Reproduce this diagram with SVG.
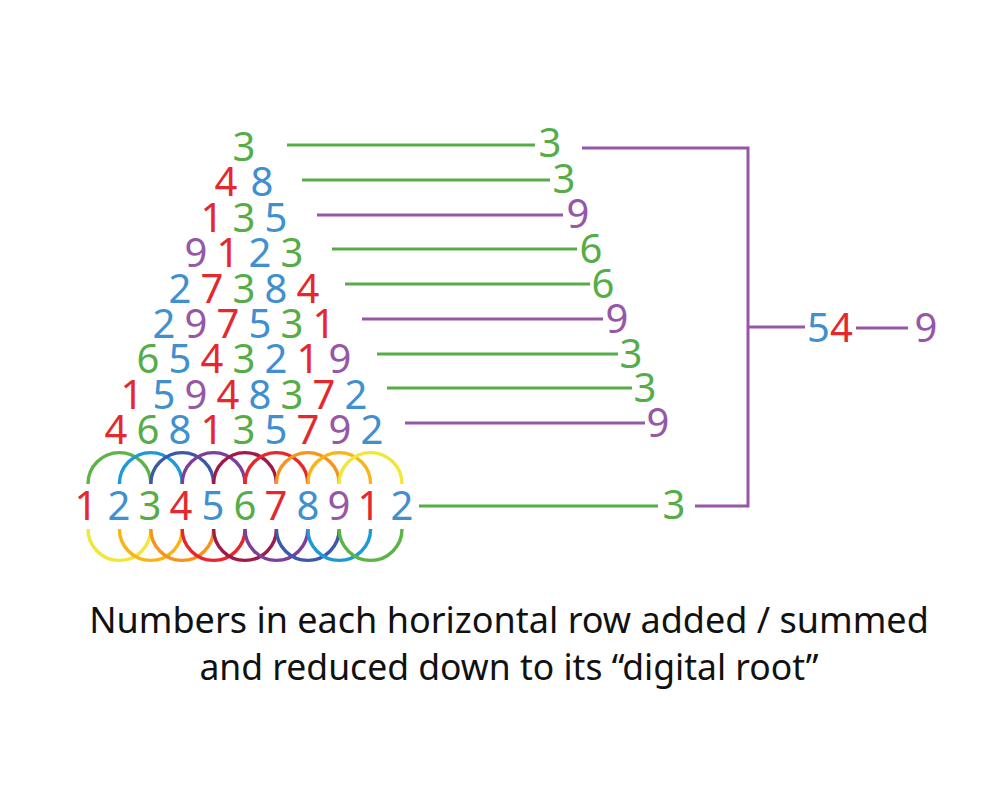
<svg xmlns="http://www.w3.org/2000/svg" width="1002" height="786" viewBox="0 0 1002 786">
<style>
text{font-family:"Noto Sans","Open Sans",sans-serif}
.d{font-size:40px;text-anchor:middle}
.r{fill:#e5282d}.b{fill:#4090d0}.g{fill:#56ad47}.p{fill:#9557a6}
.ln{stroke-width:3;fill:none;stroke-linecap:butt}
.lg{stroke:#56ad47}.lp{stroke:#9557a6}
.arc{fill:none;stroke-width:3.4}
.cap{font-size:35.5px;fill:#111;text-anchor:middle}
</style>
<rect width="1002" height="786" fill="#fff"/>
<g id="connectors">
<line class="ln lg" x1="287" y1="145" x2="535" y2="145"/>
<line class="ln lg" x1="302" y1="180" x2="550" y2="180"/>
<line class="ln lp" x1="317" y1="215" x2="563" y2="215"/>
<line class="ln lg" x1="332" y1="249" x2="577" y2="249"/>
<line class="ln lg" x1="345" y1="284" x2="590" y2="284"/>
<line class="ln lp" x1="362" y1="319" x2="603" y2="319"/>
<line class="ln lg" x1="377" y1="354" x2="618" y2="354"/>
<line class="ln lg" x1="387" y1="388" x2="632" y2="388"/>
<line class="ln lp" x1="405" y1="423" x2="645" y2="423"/>
<line class="ln lg" x1="419" y1="506" x2="658" y2="506"/>
<polyline class="ln lp" points="582,148 748,148 748,506 695,506"/>
<line class="ln lp" x1="748" y1="327" x2="805" y2="327"/>
<line class="ln lp" x1="856" y1="328" x2="908" y2="328"/>
</g>
<g id="row-1"><text class="d"><tspan class="g" x="244" y="161">3</tspan></text></g>
<g id="row-2"><text class="d" y="196.4"><tspan class="r" x="226">4</tspan><tspan class="b" x="262">8</tspan></text></g>
<g id="row-3"><text class="d" y="231.8"><tspan class="r" x="212">1</tspan><tspan class="g" x="244">3</tspan><tspan class="b" x="276">5</tspan></text></g>
<g id="row-4"><text class="d" y="267.2"><tspan class="p" x="196">9</tspan><tspan class="r" x="228">1</tspan><tspan class="b" x="260">2</tspan><tspan class="g" x="292">3</tspan></text></g>
<g id="row-5"><text class="d" y="302.6"><tspan class="b" x="180">2</tspan><tspan class="r" x="212">7</tspan><tspan class="g" x="244">3</tspan><tspan class="b" x="276">8</tspan><tspan class="r" x="308">4</tspan></text></g>
<g id="row-6"><text class="d" y="338"><tspan class="b" x="164">2</tspan><tspan class="p" x="196">9</tspan><tspan class="r" x="228">7</tspan><tspan class="b" x="260">5</tspan><tspan class="g" x="292">3</tspan><tspan class="r" x="324">1</tspan></text></g>
<g id="row-7"><text class="d" y="373.4"><tspan class="g" x="148">6</tspan><tspan class="b" x="180">5</tspan><tspan class="r" x="212">4</tspan><tspan class="g" x="244">3</tspan><tspan class="b" x="276">2</tspan><tspan class="r" x="308">1</tspan><tspan class="p" x="340">9</tspan></text></g>
<g id="row-8"><text class="d" y="408.8"><tspan class="r" x="132">1</tspan><tspan class="b" x="164">5</tspan><tspan class="p" x="196">9</tspan><tspan class="r" x="228">4</tspan><tspan class="b" x="260">8</tspan><tspan class="g" x="292">3</tspan><tspan class="r" x="324">7</tspan><tspan class="b" x="356">2</tspan></text></g>
<g id="row-9"><text class="d" y="444.2"><tspan class="r" x="116">4</tspan><tspan class="g" x="148">6</tspan><tspan class="b" x="180">8</tspan><tspan class="r" x="212">1</tspan><tspan class="g" x="244">3</tspan><tspan class="b" x="276">5</tspan><tspan class="r" x="308">7</tspan><tspan class="p" x="340">9</tspan><tspan class="b" x="372">2</tspan></text></g>
<g id="arcs">
<path class="arc" stroke="#5cb446" d="M88,484 A31.4,31.4 0 0 1 150.8,484"/>
<path class="arc" stroke="#1d9ad6" d="M119.4,484 A31.4,31.4 0 0 1 182.2,484"/>
<path class="arc" stroke="#3c58a8" d="M150.8,484 A31.4,31.4 0 0 1 213.6,484"/>
<path class="arc" stroke="#7d3f98" d="M182.2,484 A31.4,31.4 0 0 1 245,484"/>
<path class="arc" stroke="#a0194b" d="M213.6,484 A31.4,31.4 0 0 1 276.4,484"/>
<path class="arc" stroke="#e8262b" d="M245,484 A31.4,31.4 0 0 1 307.8,484"/>
<path class="arc" stroke="#f7941d" d="M276.4,484 A31.4,31.4 0 0 1 339.2,484"/>
<path class="arc" stroke="#fbb416" d="M307.8,484 A31.4,31.4 0 0 1 370.6,484"/>
<path class="arc" stroke="#f0e73a" d="M339.2,484 A31.4,31.4 0 0 1 402,484"/>
<path class="arc" stroke="#f0e73a" d="M88,529 A31.4,31.4 0 0 0 150.8,529"/>
<path class="arc" stroke="#fbb416" d="M119.4,529 A31.4,31.4 0 0 0 182.2,529"/>
<path class="arc" stroke="#f7941d" d="M150.8,529 A31.4,31.4 0 0 0 213.6,529"/>
<path class="arc" stroke="#e8262b" d="M182.2,529 A31.4,31.4 0 0 0 245,529"/>
<path class="arc" stroke="#a0194b" d="M213.6,529 A31.4,31.4 0 0 0 276.4,529"/>
<path class="arc" stroke="#7d3f98" d="M245,529 A31.4,31.4 0 0 0 307.8,529"/>
<path class="arc" stroke="#3c58a8" d="M276.4,529 A31.4,31.4 0 0 0 339.2,529"/>
<path class="arc" stroke="#1d9ad6" d="M307.8,529 A31.4,31.4 0 0 0 370.6,529"/>
<path class="arc" stroke="#5cb446" d="M339.2,529 A31.4,31.4 0 0 0 402,529"/>
</g>
<g id="base-row"><text class="d" y="520"><tspan class="r" x="86">1</tspan><tspan class="b" x="119">2</tspan><tspan class="g" x="150">3</tspan><tspan class="r" x="181">4</tspan><tspan class="b" x="213">5</tspan><tspan class="g" x="245">6</tspan><tspan class="r" x="276">7</tspan><tspan class="b" x="308">8</tspan><tspan class="p" x="339">9</tspan><tspan class="r" x="369">1</tspan><tspan class="b" x="402">2</tspan></text></g>
<g id="results">
<text class="d g" x="550" y="157">3</text>
<text class="d g" x="564" y="193">3</text>
<text class="d p" x="578" y="228">9</text>
<text class="d g" x="591" y="263">6</text>
<text class="d g" x="603" y="298">6</text>
<text class="d p" x="617" y="333">9</text>
<text class="d g" x="631" y="368">3</text>
<text class="d g" x="645" y="402">3</text>
<text class="d p" x="658" y="437">9</text>
<text class="d g" x="674" y="519">3</text>
</g>
<g id="total"><text x="807" y="342" style="font-size:40px"><tspan class="b">5</tspan><tspan class="r">4</tspan></text></g>
<g id="final"><text class="d p" x="926" y="342">9</text></g>
<g id="caption">
<text class="cap" x="509" y="633" style="font-size:36px">Numbers in each horizontal row added / summed</text>
<text class="cap" x="509" y="680">and reduced down to its “digital root”</text>
</g>
</svg>
